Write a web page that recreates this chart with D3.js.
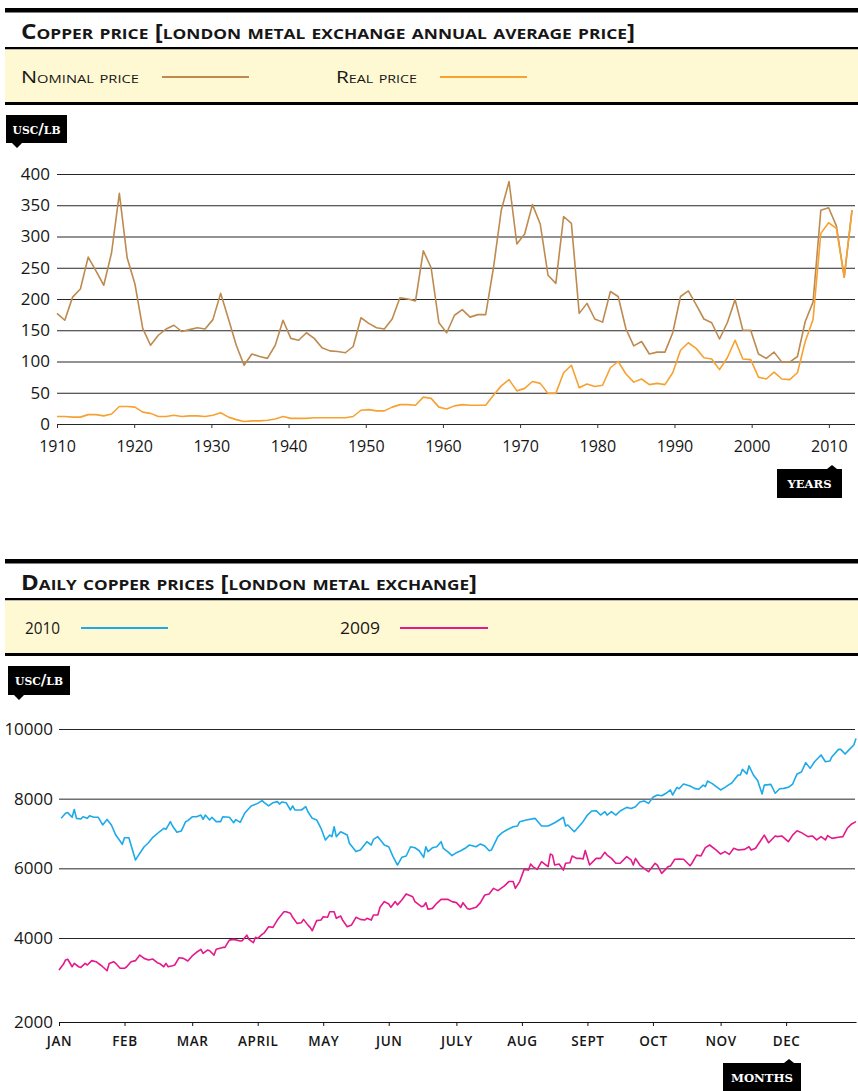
<!DOCTYPE html>
<meta charset="utf-8">
<style>
body {
  margin: 0;
  background: #fff;
}
text {
  font-family: "Open Sans", "Noto Sans", sans-serif;
  fill: #161616;
}
.title {
  font-weight: 700;
  font-variant: small-caps;
}
.legend text {
  font-variant: small-caps;
}
.tag text {
  fill: #fff;
  font-family: "DejaVu Serif", serif;
  font-weight: bold;
  font-variant: small-caps;
}
.grid line {
  stroke: #262626;
  stroke-width: 1;
}
.series {
  fill: none;
  stroke-width: 1.6;
  stroke-linejoin: round;
}
</style>
<svg id="svg" width="858" height="1091"></svg>
<script src="https://d3js.org/d3.v7.min.js"></script>
<script>

// ---------- annual prices (usc/lb), one point per year ----------
var years = d3.range(1910, 2013);
var nominal = [177,166,203,216,267,245,222,274,369,266,
  224,153,126,142,152,158,148,151,154,152,
  167,209,168,126,94,112,108,105,126,166,
  137,134,146,137,122,117,116,114,124,170,
  161,154,152,168,202,200,197,277,250,162,
  146,174,183,171,175,175,250,342,388,288,
  304,351,320,238,225,332,321,177,193,168,
  163,212,204,152,125,132,112,115,115,146,
  204,213,191,168,162,136,162,199,150,150,
  112,105,115,99,99,108,164,195,342,346,
  317,235,342];
var real = [12,12,11,11,15,15,13,16,28,28,
  27,19,17,12,12,14,12,13,13,12,
  14,18,11,7,4,5,5,6,8,12,
  9,9,9,10,10,10,10,10,12,22,
  23,21,21,27,31,31,30,43,41,27,
  24,29,31,30,30,30,46,61,71,53,
  57,68,65,49,49,82,94,58,64,60,
  62,90,100,80,67,72,63,65,63,82,
  118,130,121,106,104,87,106,134,104,103,
  75,72,83,72,71,82,132,167,305,322,
  313,235,342];
var decadeTicks = [1910,1920,1930,1940,1950,1960,1970,1980,1990,2000,2010];
var annualTicks = [0,50,100,150,200,250,300,350,400];

// ---------- daily prices, day of year -> price ----------
var days2010 = [1,3,4,6,7,8,10,11,13,14,16,18,20,22,24,26,29,30,32,35,36,39,41,43,46,48,49,51,52,54,
  56,58,59,61,63,65,66,67,69,70,72,74,75,78,80,81,83,85,88,91,93,94,96,98,100,101,102,104,106,107,108,110,
  111,113,114,116,118,120,122,124,125,126,127,129,132,133,136,138,141,143,144,146,149,151,153,155,157,159,
  161,163,165,167,168,169,171,173,175,176,178,180,182,184,186,188,191,193,195,197,198,201,203,205,208,210,
  211,214,218,221,224,227,231,232,233,236,238,
  240,242,244,246,248,250,251,253,255,257,260,262,264,266,268,270,272,274,276,278,280,281,283,284,286,289,
  291,293,295,296,297,299,301,303,305,307,308,311,312,313,315,316,318,320,322,323,326,328,330,332,334,336,
  338,340,342,344,346,349,351,353,354,357,358,360,362,364,365];
var prices2010 = [7435,7580,7600,7465,7690,7435,7415,7480,7435,7510,7465,7465,7245,7405,7245,6955,6690,6880,6880,6240,
  6335,6620,6735,6890,7050,7148,7120,7340,7215,7035,7070,7340,7370,7480,7480,7530,7405,7530,7390,7465,
  7340,7340,7480,7465,7310,7400,7320,7580,7790,7865,7945,7885,7790,7885,7915,7845,7905,7885,7675,7790,7675,7675,
  7675,7770,7625,7435,7390,7150,6815,6955,6910,7195,6910,7050,6955,6720,6480,6525,6765,6670,6830,6910,
  6670,6620,6335,6095,6315,6355,6620,6590,6505,6315,6620,6480,6590,6620,6765,6575,6480,6365,6450,6505,
  6575,6670,6620,6700,6640,6505,6525,6910,7025,7100,7195,7215,7340,7390,7435,7215,7215,7310,7465,7215,
  7245,7050,7195,
  7340,7530,7645,7655,7530,7625,7530,7625,7530,7645,7750,7720,7770,7905,7935,7865,8040,8105,8085,8155,
  8250,8105,8325,8285,8420,8365,8295,8270,8390,8345,8505,8440,8345,8250,8325,8410,8440,8680,8680,8840,
  8710,8940,8680,8515,8135,8390,8410,8155,8285,8295,8325,8420,8710,8765,9035,8870,9060,9255,9060,9080,
  9205,9415,9415,9280,9415,9540,9730];
var days2009 = [0,2,3,4,6,7,9,10,12,13,15,17,19,20,22,23,25,26,28,30,31,33,35,37,39,41,43,45,46,48,
  49,50,52,53,55,57,59,61,63,65,66,68,69,71,72,75,76,78,80,83,84,86,87,89,90,91,93,94,96,98,
  100,103,104,106,107,109,
  111,112,114,115,116,118,120,121,123,124,126,127,129,130,132,134,136,138,140,141,
  143,144,146,147,149,151,152,154,155,157,159,162,163,166,167,168,169,171,173,175,
  178,180,182,184,185,187,188,191,193,195,197,199,201,204,206,208,209,211,213,215,
  216,217,219,221,223,224,225,226,227,229,231,232,234,235,237,239,
  240,241,243,246,248,250,251,253,255,257,260,262,263,264,266,269,270,273,274,276,
  279,280,282,284,286,289,290,292,294,296,298,301,303,305,307,309,311,314,316,317,
  319,321,323,325,328,329,331,334,336,338,340,343,345,347,349,351,352,354,357,359,
  361,363,365];
var prices2009 = [3080,3245,3370,3390,3175,3270,3175,3155,3270,3225,3350,3320,3225,3175,3060,3270,3320,3270,3130,3130,
  3175,3320,3350,3510,3415,3370,3395,3290,3270,3175,3270,3175,3205,3225,3435,3415,3340,3485,3590,3675,
  3560,3655,3635,3510,3675,3730,3730,3940,3960,3915,3925,4080,3960,3865,4020,3990,4105,4150,4325,4305,
  4515,4755,4755,4710,4595,4420,
  4440,4535,4370,4305,4210,4500,4515,4610,4595,4755,4755,4565,4630,4500,4325,4375,4595,4535,4515,4565,
  4515,4660,4660,4880,5045,4975,4880,5045,4950,5090,5265,5185,5045,4900,4920,5015,4825,4850,4995,5110,
  5110,5045,5015,4880,5015,4850,4825,4880,5015,5235,5265,5425,5360,5495,5620,5620,5425,5620,5970,5950,
  6125,6050,5970,6190,6095,6050,6410,6380,6095,6125,5950,6145,6160,6355,6285,6285,
  6270,6510,6095,6285,6285,6460,6380,6285,6145,6145,6335,6240,6095,6285,6095,5950,5905,6145,6095,5855,
  6050,6065,6260,6270,6260,6075,6160,6380,6355,6595,6670,6525,6410,6480,6400,6575,6525,6545,6620,6525,
  6575,6765,6955,6735,6930,6910,6930,6765,6955,7080,7025,6910,6930,6815,6910,6815,6940,6860,6890,6910,
  7150,7275,7340];
var monthNames = ["JAN","FEB","MAR","APRIL","MAY","JUN","JULY","AUG","SEPT","OCT","NOV","DEC"];
var monthDays = [0,30,61,91,121,151,182,212,242,272,303,333];
var dailyTicks = [4000,6000,8000,10000];

var svg = d3.select("#svg");

// title strip + pale yellow legend band
function header(top, title, titleWidth, items) {
  var g = svg.append("g");
  g.append("rect").attr("x", 5).attr("y", top).attr("width", 853).attr("height", 4.5).attr("fill", "#000");
  g.append("text").attr("class", "title")
      .attr("x", 21).attr("y", top + 30.5)
      .attr("font-size", 21)
      .attr("textLength", titleWidth).attr("lengthAdjust", "spacingAndGlyphs")
      .text(title);
  g.append("rect").attr("x", 5).attr("y", top + 39).attr("width", 853).attr("height", 2.5).attr("fill", "#000");
  g.append("rect").attr("x", 5).attr("y", top + 41.5).attr("width", 853).attr("height", 53).attr("fill", "#fef9d3");
  g.append("rect").attr("x", 5).attr("y", top + 94).attr("width", 853).attr("height", 3).attr("fill", "#000");

  var lg = g.append("g").attr("class", "legend");
  items.forEach(function(d) {
    lg.append("text").attr("x", d.x).attr("y", top + 75)
      .attr("font-size", d.size)
      .attr("textLength", d.w).attr("lengthAdjust", "spacingAndGlyphs")
      .text(d.label);
    lg.append("line")
      .attr("x1", d.x1).attr("x2", d.x2)
      .attr("y1", top + 69).attr("y2", top + 69)
      .attr("stroke", d.color).attr("stroke-width", 1.8);
  });
}

// black unit label with a little pointer
function tag(x, y, w, h, px, up, label, tw) {
  var g = svg.append("g").attr("class", "tag");
  var p = up
    ? "M" + x + "," + y + "H" + (px - 5) + "L" + px + "," + (y - 4) + "L" + (px + 5) + "," + y + "H" + (x + w) + "V" + (y + h) + "H" + x + "Z"
    : "M" + x + "," + y + "H" + (x + w) + "V" + (y + h) + "H" + (px + 5) + "L" + px + "," + (y + h + 5) + "L" + (px - 5) + "," + (y + h) + "H" + x + "Z";
  g.append("path").attr("d", p).attr("fill", "#000");
  g.append("text")
    .attr("x", x + w / 2).attr("y", y + h / 2 + 4.5)
    .attr("text-anchor", "middle")
    .attr("font-size", 15.5)
    .attr("textLength", tw).attr("lengthAdjust", "spacingAndGlyphs")
    .text(label);
}

// ================= chart 1: annual average =================
header(8, "Copper price [london metal exchange annual average price]", 614, [
  {label: "Nominal price", x: 21, w: 118, size: 16, x1: 162, x2: 249, color: "#be8a4f"},
  {label: "Real price", x: 336, w: 81, size: 16, x1: 440, x2: 527, color: "#f7a132"}
]);
tag(6, 115, 61, 28, 17, false, "usc/lb", 48);

var x1 = d3.scalePoint().domain(years).range([57, 852]);
var x1Axis = d3.scaleLinear().domain([1910, 2013]).range([57, 852]);
var y1 = d3.scaleLinear().domain([0, 400]).range([424, 174]);

var g1 = svg.append("g");

g1.append("g").attr("class", "grid")
    .attr("transform", "translate(57,0)")
    .call(d3.axisLeft(y1).tickValues(annualTicks).tickSize(-798).tickPadding(7))
    .call(function(g) { g.select(".domain").remove(); })
    .call(function(g) {
      g.selectAll("text").attr("font-size", 17).attr("font-family", null).attr("fill", "#161616");
    });

g1.append("g")
    .attr("transform", "translate(0," + y1(0) + ")")
    .call(d3.axisBottom(x1Axis).tickValues(decadeTicks).tickFormat(d3.format("d")).tickSize(4).tickPadding(13))
    .call(function(g) { g.select(".domain").remove(); })
    .call(function(g) {
      g.selectAll("line").attr("stroke", "#333");
      g.selectAll("text").attr("font-size", 16).attr("font-family", null).attr("fill", "#161616");
    });

var annualLine = d3.line()
    .x(function(d, i) { return x1(years[i]); })
    .y(function(d) { return y1(d); });

g1.append("path").datum(nominal).attr("class", "series").attr("stroke", "#be8a4f").attr("d", annualLine);
g1.append("path").datum(real).attr("class", "series").attr("stroke", "#f7a132").attr("d", annualLine);

tag(777, 469, 65, 29, 832, true, "years", 44);

// ================= chart 2: daily prices =================
header(559, "Daily copper prices [london metal exchange]", 456, [
  {label: "2010", x: 25, w: 35, size: 16, x1: 81, x2: 168, color: "#1caae8"},
  {label: "2009", x: 340, w: 40, size: 16, x1: 400, x2: 488, color: "#e4198b"}
]);
tag(8, 666, 62, 29, 19, false, "usc/lb", 48);

var x2 = d3.scaleLinear().domain([0, 365]).range([59, 856]);
var y2 = d3.scaleLinear().domain([4000, 10000]).range([938, 729]);
var plotBottom = 1022;

var g2 = svg.append("g");

g2.append("g").attr("class", "grid")
    .attr("transform", "translate(59,0)")
    .call(d3.axisLeft(y2).tickValues(dailyTicks).tickFormat(d3.format("d")).tickSize(-796).tickPadding(6))
    .call(function(g) { g.select(".domain").remove(); })
    .call(function(g) {
      g.selectAll("text").attr("font-size", 17).attr("font-family", null).attr("fill", "#161616");
    });

// baseline of the panel carries the lowest label
g2.append("text")
    .attr("x", 53).attr("y", plotBottom + 6)
    .attr("text-anchor", "end")
    .attr("font-size", 17)
    .text("2000");

g2.append("g")
    .attr("transform", "translate(0," + plotBottom + ")")
    .call(d3.axisBottom(x2).tickValues(monthDays)
      .tickFormat(function(d, i) { return monthNames[i]; })
      .tickSize(4).tickSizeOuter(0).tickPadding(10))
    .call(function(g) {
      g.select(".domain").attr("stroke", "#111");
      g.selectAll("line").attr("stroke", "#111");
      g.selectAll("text")
        .attr("font-size", 13.5).attr("font-family", null)
        .attr("font-weight", 600).attr("letter-spacing", 0.6)
        .attr("fill", "#161616");
    });

var dailyLine = function(days) {
  return d3.line()
    .x(function(d, i) { return x2(days[i]); })
    .y(function(d) { return y2(d); });
};

g2.append("path").datum(prices2010).attr("class", "series").attr("stroke", "#1caae8").attr("d", dailyLine(days2010));
g2.append("path").datum(prices2009).attr("class", "series").attr("stroke", "#e4198b").attr("d", dailyLine(days2009));

tag(723, 1063, 78, 28, 789, true, "months", 62);

</script>
